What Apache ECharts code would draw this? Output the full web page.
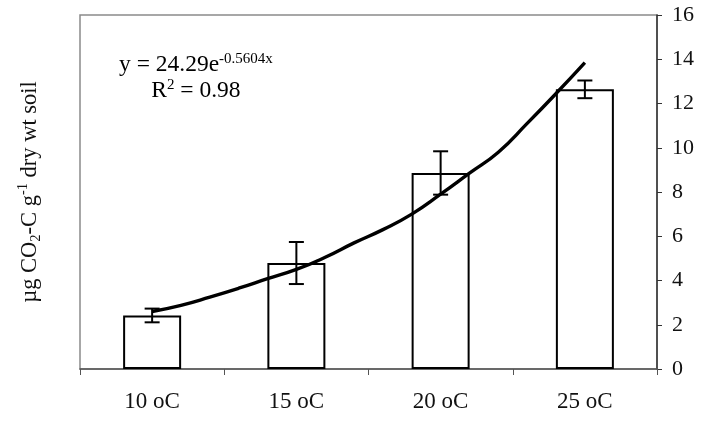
<!DOCTYPE html>
<html>
<head>
<meta charset="utf-8">
<script src="https://cdn.jsdelivr.net/npm/echarts@6/dist/echarts.min.js"></script>
<style>
  html, body { margin: 0; padding: 0; background: #fff; }
  #chart { width: 720px; height: 445px; }
</style>
</head>
<body>
<div id="chart"></div>
<script>
// Incubation temperatures and mean CO2-C evolved (with standard errors)
const categories = ['10 oC', '15 oC', '20 oC', '25 oC'];
const means = [2.42, 4.79, 8.86, 12.64];
const errors = [0.31, 0.95, 0.98, 0.40];

// Fitted exponential trend, sampled along the temperature range (°C)
const curveTemps = [10, 11, 12, 13, 14, 15, 16, 17, 18, 19, 20, 21, 22, 23, 24, 25];
const curveValues = [2.6, 2.88, 3.25, 3.65, 4.08, 4.5, 5.05, 5.7, 6.3, 7.0, 7.9, 8.85, 9.8, 11.1, 12.45, 13.85];

// Value axis ticks
const yMin = 0, yMax = 16, yStep = 2;

const FONT = "'Liberation Serif', 'Times New Roman', serif";

const chart = echarts.init(document.getElementById('chart'));

const errorData = categories.map((c, i) => [i, means[i] - errors[i], means[i] + errors[i]]);
const curveData = curveTemps.map((t, i) => [t, curveValues[i]]);

chart.setOption({
  animation: false,
  backgroundColor: '#fff',
  grid: {
    left: 80, right: 63, top: 15, bottom: 76,
    show: true, borderColor: '#8a8a8a', borderWidth: 1.5, backgroundColor: 'transparent'
  },
  xAxis: [
    {
      type: 'category',
      data: categories,
      boundaryGap: true,
      axisLine: { lineStyle: { color: '#555', width: 1.5 } },
      axisTick: { show: true, alignWithLabel: false, length: 6, lineStyle: { color: '#555', width: 1 } },
      axisLabel: { color: '#111', fontFamily: FONT, fontSize: 23, margin: 21 }
    },
    {
      // temperature scale aligned with the category centres (10 °C … 25 °C)
      type: 'value', min: 7.5, max: 27.5, show: false
    }
  ],
  yAxis: [
    {
      type: 'value', position: 'right',
      min: yMin, max: yMax, interval: yStep,
      axisLine: { show: true, lineStyle: { color: '#333', width: 1.5 } },
      axisTick: { show: true, inside: false, length: 5, lineStyle: { color: '#333', width: 1 } },
      axisLabel: { color: '#111', fontFamily: FONT, fontSize: 22, margin: 15 },
      splitLine: { show: false }
    },
    {
      type: 'value', position: 'left',
      min: yMin, max: yMax, interval: yStep,
      axisLine: { show: false }, axisTick: { show: false }, axisLabel: { show: false },
      splitLine: { show: false },
      name: '{t|µg CO}{sub|2}{t|-C g}{sup|-1}{t| dry wt soil}',
      nameLocation: 'middle', nameRotate: 90, nameGap: 36,
      nameTextStyle: {
        rich: {
          t: { fontFamily: FONT, fontSize: 22.5, color: '#111', lineHeight: 28 },
          sub: { fontFamily: FONT, fontSize: 14.5, color: '#111', lineHeight: 14, verticalAlign: 'bottom' },
          sup: { fontFamily: FONT, fontSize: 14.5, color: '#111', lineHeight: 14, verticalAlign: 'top' }
        }
      }
    }
  ],
  graphic: [
    {
      type: 'text', left: 119, top: 52,
      style: {
        text: '{a|y = 24.29e}{s|-0.5604x}\n{a|R}{s|2}{a| = 0.98}',
        align: 'center',
        rich: {
          a: { fontFamily: FONT, fontSize: 23.5, color: '#111', lineHeight: 26, align: 'center' },
          s: { fontFamily: FONT, fontSize: 15, color: '#111', lineHeight: 14, verticalAlign: 'top' }
        }
      }
    }
  ],
  series: [
    {
      type: 'bar',
      data: means,
      barWidth: 58,
      itemStyle: { color: '#fff', borderColor: '#000', borderWidth: 2 },
      z: 2
    },
    {
      type: 'custom',
      data: errorData,
      z: 4,
      renderItem: function (params, api) {
        const x = api.coord([api.value(0), 0])[0];
        const lo = api.coord([api.value(0), api.value(1)])[1];
        const hi = api.coord([api.value(0), api.value(2)])[1];
        const half = 7.5;
        const st = { stroke: '#000', lineWidth: 2, fill: null };
        return {
          type: 'group',
          children: [
            { type: 'line', shape: { x1: x, y1: lo, x2: x, y2: hi }, style: st },
            { type: 'line', shape: { x1: x - half, y1: hi, x2: x + half, y2: hi }, style: st },
            { type: 'line', shape: { x1: x - half, y1: lo, x2: x + half, y2: lo }, style: st }
          ]
        };
      }
    },
    {
      type: 'line',
      xAxisIndex: 1,
      yAxisIndex: 0,
      data: curveData,
      smooth: true,
      showSymbol: false,
      lineStyle: { color: '#000', width: 3.4 },
      z: 5
    }
  ]
});
</script>
</body>
</html>
